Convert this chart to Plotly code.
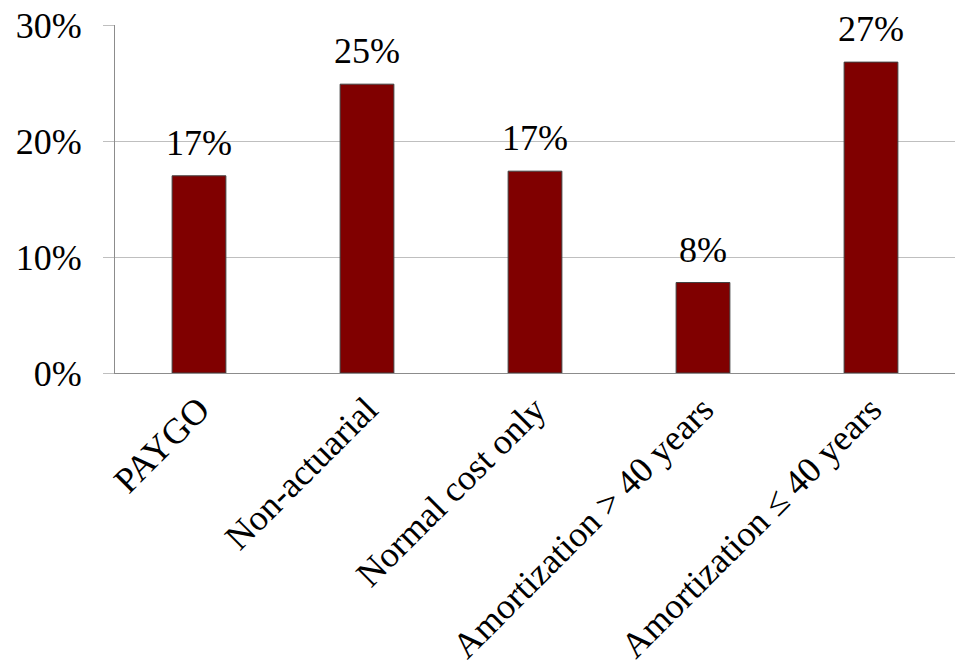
import plotly.graph_objects as go

categories = ["PAYGO", "Non-actuarial", "Normal cost only",
              "Amortization > 40 years", "Amortization ≤ 40 years"]
values = [17.0, 24.9, 17.4, 7.8, 26.8]
labels = ["17%", "25%", "17%", "8%", "27%"]
y_ticks = [0, 10, 20, 30]
y_tick_text = ["0%", "10%", "20%", "30%"]

FONT = "Liberation Serif"
FS = 36

fig = go.Figure(go.Bar(
    x=categories, y=values,
    marker=dict(color="#800000", line=dict(color="#404040", width=1)),
    width=0.32,
))

for c, v, t in zip(categories, values, labels):
    fig.add_annotation(x=c, y=v, text=t, showarrow=False, yanchor="bottom",
                       yshift=11, font=dict(family=FONT, size=FS, color="black"))

fig.update_layout(
    width=955, height=668,
    margin=dict(l=115, r=0, t=25, b=295, autoexpand=False),
    paper_bgcolor="white", plot_bgcolor="white",
    font=dict(family=FONT, size=FS, color="black"),
    showlegend=False,
)
fig.update_xaxes(
    tickangle=-45, showline=True, linecolor="#8c8c8c", linewidth=1,
    ticks="", showgrid=False, automargin=False,
    tickfont=dict(family=FONT, size=FS, color="black"),
)
fig.update_yaxes(
    range=[0, 30], tickvals=y_ticks, ticktext=y_tick_text,
    showline=True, linecolor="#8c8c8c", linewidth=1,
    showgrid=True, gridcolor="#bfbfbf", gridwidth=1,
    ticks="outside", ticklen=11, tickcolor="#bfbfbf",
    ticklabelstandoff=14, automargin=False, zeroline=False,
    tickfont=dict(family=FONT, size=FS, color="black"),
)

fig.write_html("out.html")
